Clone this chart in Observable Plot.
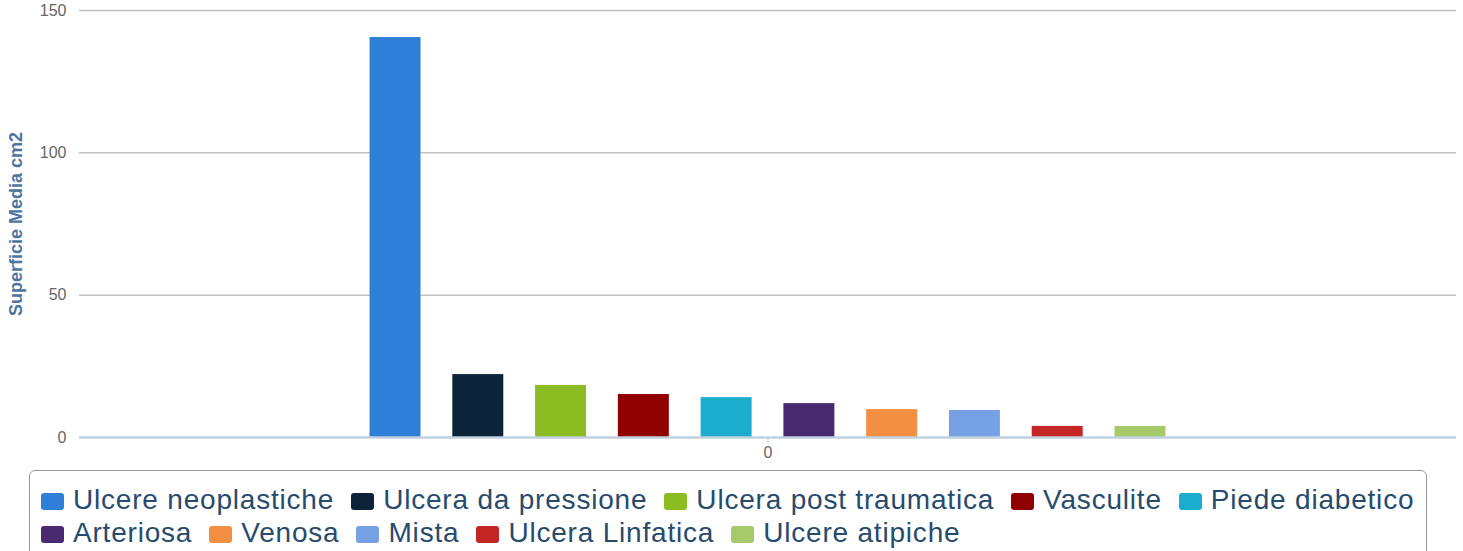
<!DOCTYPE html>
<html>
<head>
<meta charset="utf-8">
<script src="https://cdn.jsdelivr.net/npm/d3@7"></script>
<script src="https://cdn.jsdelivr.net/npm/@observablehq/plot@0.6"></script>
<style>
  html, body { margin: 0; padding: 0; background: #fff; }
  body { width: 1463px; height: 551px; overflow: hidden; font-family: "Liberation Sans", Arial, sans-serif; }
  #chart svg { display: block; }
  #legend {
    position: absolute; left: 29px; top: 470px; width: 1398px; height: 100px;
    border: 1px solid #999; border-radius: 6px; box-sizing: border-box;
    padding: 12px 0 0 11px; overflow: visible;
  }
  .row { display: flex; flex-wrap: nowrap; white-space: nowrap; width: 1500px; }
  .item { display: inline-flex; align-items: center; white-space: nowrap; margin-right: 17px;
    font-size: 28px; letter-spacing: 0.8px; line-height: 33px; color: #274b6d; }
  .sw { width: 23px; height: 17px; border-radius: 3px; margin-right: 9px; flex: none; margin-top: 3px; }
</style>
</head>
<body>
<div id="chart"></div>
<div id="legend"></div>
<script>
const categories = ["0"];
const seriesNames = [
  "Ulcere neoplastiche", "Ulcera da pressione", "Ulcera post traumatica", "Vasculite", "Piede diabetico",
  "Arteriosa", "Venosa", "Mista", "Ulcera Linfatica", "Ulcere atipiche"
];
const seriesValues = [140.5, 22.1, 18.3, 15.1, 14.0, 11.9, 9.8, 9.5, 3.9, 3.9];
const seriesColors = ["#2f7ed8", "#0d233a", "#8bbc21", "#910000", "#1aadce", "#492970", "#f28f43", "#77a1e5", "#c42525", "#a6c96a"];
const yTicks = [0, 50, 100, 150];
const yTitle = "Superficie Media cm2";
const legendRows = [5, 5]; // items per legend row

const data = seriesNames.map((name, i) => ({ group: categories[0], name, value: seriesValues[i] }));

const chart = Plot.plot({
  width: 1463,
  height: 462,
  marginTop: 10,
  marginBottom: 25,
  marginLeft: 79,
  marginRight: 7,
  style: { fontFamily: "Liberation Sans, Arial, sans-serif", fontSize: "16px", background: "#fff", overflow: "visible" },
  fx: { domain: categories, padding: 0, label: null, round: false },
  x: { domain: seriesNames, paddingInner: 0.384, paddingOuter: 3.51, axis: null, round: false },
  y: { domain: [0, 150], label: null },
  color: { domain: seriesNames, range: seriesColors },
  marks: [
    Plot.gridY(yTicks.filter(d => d > 0), { stroke: "#c0c0c0", strokeOpacity: 1, strokeWidth: 1.5 }),
    Plot.barY(data, { fx: "group", x: "name", y: "value", fill: "name" }),
    Plot.ruleY([0], { stroke: "#c0d0e0", strokeWidth: 2.5 }),
    Plot.axisY({ ticks: yTicks, tickSize: 0, tickPadding: 13, fill: "#666", fontSize: 16, label: null }),
    Plot.axisY({ ticks: [], label: yTitle, labelAnchor: "center", labelArrow: "none", labelOffset: 70, fill: "#4d759e", fontWeight: "bold", fontSize: 18 }),
    Plot.axisFx({ anchor: "bottom", tickSize: 6, tickPadding: 3, stroke: "#c0d0e0", fill: "#666", fontSize: 16, label: null })
  ]
});
document.getElementById("chart").appendChild(chart);

const legend = document.getElementById("legend");
let idx = 0;
legendRows.forEach(n => {
  const row = document.createElement("div");
  row.className = "row";
  for (let k = 0; k < n; k++, idx++) {
    const it = document.createElement("div");
    it.className = "item";
    const sw = document.createElement("span");
    sw.className = "sw";
    sw.style.background = seriesColors[idx];
    const tx = document.createElement("span");
    tx.textContent = seriesNames[idx];
    it.appendChild(sw); it.appendChild(tx);
    row.appendChild(it);
  }
  legend.appendChild(row);
});
</script>
</body>
</html>
